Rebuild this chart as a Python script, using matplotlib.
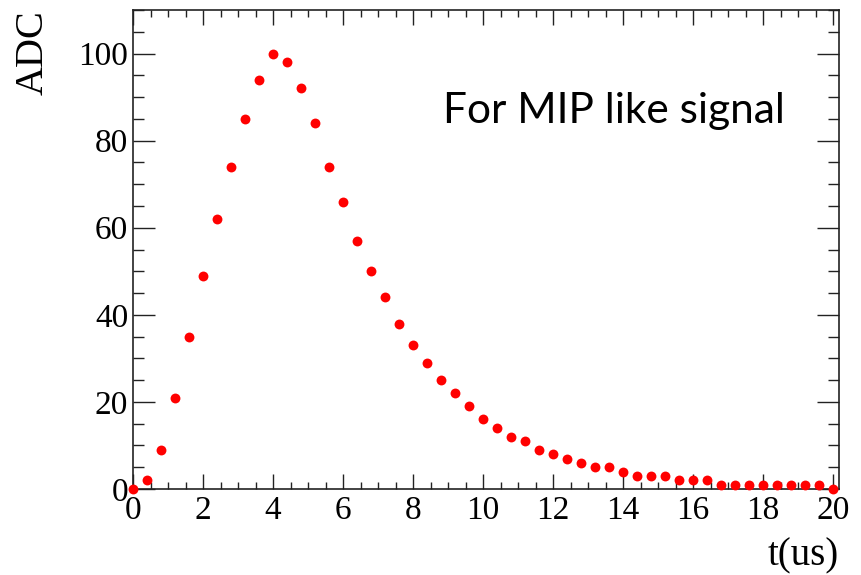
import numpy as np
import matplotlib
matplotlib.use("Agg")
import matplotlib.pyplot as plt
from matplotlib.ticker import MultipleLocator

# Sampled pulse shape: time in microseconds, amplitude in ADC counts
t_us = [0.0, 0.4, 0.8, 1.2, 1.6, 2.0, 2.4, 2.8, 3.2, 3.6,
        4.0, 4.4, 4.8, 5.2, 5.6, 6.0, 6.4, 6.8, 7.2, 7.6,
        8.0, 8.4, 8.8, 9.2, 9.6, 10.0, 10.4, 10.8, 11.2, 11.6,
        12.0, 12.4, 12.8, 13.2, 13.6, 14.0, 14.4, 14.8, 15.2, 15.6,
        16.0, 16.4, 16.8, 17.2, 17.6, 18.0, 18.4, 18.8, 19.2, 19.6,
        20.0]
adc = [0, 2, 9, 21, 35, 49, 62, 74, 85, 94,
       100, 98, 92, 84, 74, 66, 57, 50, 44, 38,
       33, 29, 25, 22, 19, 16, 14, 12, 11, 9,
       8, 7, 6, 5, 5, 4, 3, 3, 3, 2,
       2, 2, 1, 1, 1, 1, 1, 1, 1, 1,
       0]

x_ticks = [0, 2, 4, 6, 8, 10, 12, 14, 16, 18, 20]
y_ticks = [0, 20, 40, 60, 80, 100]

W, H = 861, 575
fig = plt.figure(figsize=(W / 100, H / 100), dpi=100)
ax = fig.add_axes([133 / W, 1 - 489 / H, (839 - 133) / W, (489 - 10) / H])

ax.plot(t_us, adc, linestyle="none", marker="o", markersize=7.1,
        color="#ff0000", markeredgewidth=0, clip_on=False, zorder=5)

ax.set_xlim(0, 20.17)
ax.set_ylim(0, 110)
ax.set_xticks(x_ticks)
ax.set_yticks(y_ticks)
ax.xaxis.set_minor_locator(MultipleLocator(0.5))
ax.yaxis.set_minor_locator(MultipleLocator(5))

serif = "Liberation Serif"
for lbl in ax.get_xticklabels() + ax.get_yticklabels():
    lbl.set_fontfamily(serif)
    lbl.set_fontsize(24)

ax.tick_params(axis="x", which="major", direction="in", length=10.5, width=1.0,
               top=True, pad=5, color="#222222")
ax.tick_params(axis="x", which="minor", direction="in", length=5.3, width=1.0,
               top=True, color="#222222")
ax.tick_params(axis="y", which="major", direction="in", length=16, width=1.0,
               right=True, pad=3.5, color="#222222")
ax.tick_params(axis="y", which="minor", direction="in", length=8, width=1.0,
               right=True, color="#222222")
for sp in ax.spines.values():
    sp.set_linewidth(1.2)
    sp.set_color("#222222")

fig.text(33 / W, 1 - 10 / H, "ADC", rotation=90, ha="center", va="top",
         fontfamily=serif, fontsize=29)
fig.text(839 / W, (H - 565) / H, "t(us)", ha="right", va="baseline",
         fontfamily=serif, fontsize=28)

ax.text(443 / W, 1 - 123 / H, "For MIP like signal", transform=fig.transFigure,
        ha="left", va="baseline", fontfamily="Lato", fontsize=30.5)

fig.savefig("out.png", dpi=100)
